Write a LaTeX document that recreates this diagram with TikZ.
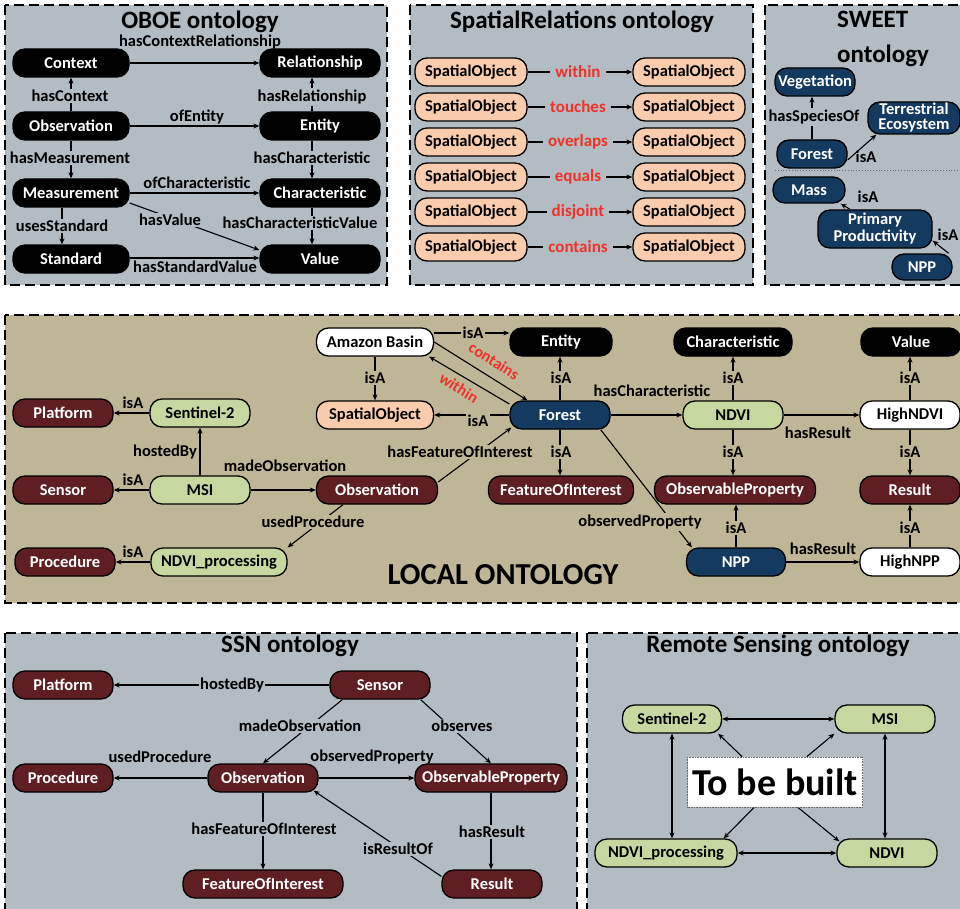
\documentclass[tikz,border=0pt]{standalone}
\usepackage{fontspec}
\setmainfont{Carlito}
\usetikzlibrary{arrows.meta}
\definecolor{pgray}{RGB}{179,187,195}
\definecolor{ptan}{RGB}{190,182,150}
\definecolor{dkred}{RGB}{94,30,34}
\definecolor{dkblue}{RGB}{20,58,96}
\definecolor{lgreen}{RGB}{198,216,160}
\definecolor{peach}{RGB}{248,204,172}
\definecolor{redlab}{RGB}{238,50,40}
\pgfdeclarelayer{bgl}
\pgfdeclarelayer{edl}
\pgfsetlayers{bgl,edl,main}
\newcommand\nf{\fontsize{16.5}{17}\selectfont\bfseries}
\begin{document}
\begin{tikzpicture}[x=1pt,y=-1pt,
 nd/.style={draw=black, line width=1.3pt, rounded corners=12pt, minimum height=28pt, inner sep=1pt, font=\nf},
 blk/.style={nd, fill=black, text=white},
 drd/.style={nd, fill=dkred, text=white},
 dbl/.style={nd, fill=dkblue, text=white},
 grn/.style={nd, fill=lgreen},
 pch/.style={nd, fill=peach},
 wht/.style={nd, fill=white},
 lbl/.style={font=\nf, inner sep=1.5pt},
 lg/.style={lbl, fill=pgray},
 lt/.style={lbl, fill=ptan},
 rl/.style={font=\fontsize{17}{18}\selectfont\bfseries, text=redlab, inner sep=1.5pt},
 ar/.style={line width=1.1pt, -{Stealth[length=6pt,width=5pt]}},
 da/.style={line width=1.1pt, {Stealth[length=6pt,width=5pt]}-{Stealth[length=6pt,width=5pt]}},
 panel/.style={line width=2pt, dash pattern=on 10pt off 5pt},
 ttl/.style={font=\fontsize{25}{35}\selectfont\bfseries, inner sep=0pt}
]
\useasboundingbox (0,0) rectangle (960,909);
\begin{pgfonlayer}{bgl}
\fill[white] (0,0) rectangle (960,909);
\draw[panel, fill=pgray] (5,5) rectangle (387,285);
\draw[panel, fill=pgray] (410,5) rectangle (753,285);
\draw[panel, fill=pgray] (765,5) rectangle (964,285);
\draw[panel, fill=ptan] (5,315) rectangle (964,603);
\draw[panel, fill=pgray] (5,633) rectangle (577,914);
\draw[panel, fill=pgray] (587,633) rectangle (964,914);
\end{pgfonlayer}

% ---------------- OBOE ----------------
\node[ttl] (tOBOE) at (200,22) {OBOE ontology};
\node[blk, minimum width=116pt] (oCtx) at (71,63) {Context};
\node[blk, minimum width=120pt] (oRel) at (320,63) {Relationship};
\node[blk, minimum width=116pt] (oObs) at (71,126) {Observation};
\node[blk, minimum width=120pt] (oEnt) at (320,126) {Entity};
\node[blk, minimum width=116pt] (oMea) at (71,193) {Measurement};
\node[blk, minimum width=120pt] (oCha) at (320,193) {Characteristic};
\node[blk, minimum width=116pt] (oStd) at (71,259) {Standard};
\node[blk, minimum width=120pt] (oVal) at (320,259) {Value};
\begin{pgfonlayer}{edl}
\draw[ar] (oCtx) -- (oRel);
\draw[ar] (oObs.north) -- (oCtx.south);
\draw[ar] ([xshift=-8pt]oEnt.north) -- ([xshift=-8pt]oRel.south);
\draw[ar] (oObs) -- (oEnt);
\draw[ar] (oObs.south) -- (oMea.north);
\draw[ar] ([xshift=-8pt]oEnt.south) -- ([xshift=-8pt]oCha.north);
\draw[ar] (oMea) -- (oCha);
\draw[ar] ([yshift=-10pt]oMea.east) -- ([yshift=9pt]oVal.west);
\draw[ar] ([xshift=-9pt]oMea.south) -- ([xshift=-9pt]oStd.north);
\draw[ar] ([xshift=-8pt]oCha.south) -- ([xshift=-8pt]oVal.north);
\draw[ar] ([yshift=1pt]oStd.east) -- ([yshift=1pt]oVal.west);
\end{pgfonlayer}
\node[lbl] (l1) at (200,42) {hasContextRelationship};
\node[lg] (l2) at (70,96) {hasContext};
\node[lg] (l3) at (312,97) {hasRelationship};
\node[lbl] (l4) at (197,117) {ofEntity};
\node[lg] (l5) at (70,158) {hasMeasurement};
\node[lg] (l6) at (312,158) {hasCharacteristic};
\node[lbl] (l7) at (197,183) {ofCharacteristic};
\node[lg] (l8) at (170,220) {hasValue};
\node[lg] (l9) at (62,226) {usesStandard};
\node[lg] (l10) at (300,223) {hasCharacteristicValue};
\node[lbl] (l11) at (195,267) {hasStandardValue};

% ---------------- SpatialRelations ----------------
\node[ttl] (tSR) at (582,22) {SpatialRelations ontology};
\foreach \i/\y/\r in {1/72/within,2/107/touches,3/142/overlaps,4/177/equals,5/212/disjoint,6/247/contains}{
 \node[pch, minimum width=112pt] (sl\i) at (471,\y) {SpatialObject};
 \node[pch, minimum width=112pt] (sr\i) at (689,\y) {SpatialObject};
 \begin{pgfonlayer}{edl}\draw[ar] (sl\i) -- (sr\i);\end{pgfonlayer}
 \node[rl, fill=pgray, inner xsep=5pt] (slab\i) at (578,\y) {\r};
}

% ---------------- SWEET ----------------
\node[ttl, align=left, anchor=west] (tSW) at (837,39) {SWEET\\ontology};
\node[dbl, minimum width=80pt] (sVeg) at (815,82) {Vegetation};
\node[dbl, minimum width=92pt, minimum height=32pt, align=center, font=\fontsize{16.5}{15}\selectfont\bfseries] (sTE) at (914,118) {Terrestrial\\Ecosystem};
\node[dbl, minimum width=70pt] (sFor) at (812,154) {Forest};
\node[dbl, minimum width=72pt, minimum height=26pt] (sMass) at (809,190) {Mass};
\node[dbl, minimum width=114pt, minimum height=38pt, align=center, font=\fontsize{16.5}{17}\selectfont\bfseries] (sPP) at (875,229) {Primary\\Productivity};
\node[dbl, minimum width=60pt, minimum height=26pt] (sNPP) at (922,267) {NPP};
\begin{pgfonlayer}{edl}
\draw[ar] (sFor.north) -- (sFor.north |- sVeg.south);
\draw[ar] ([yshift=-6pt]sFor.east) -- ([xshift=9pt]sTE.south west);
\draw[ar] ([xshift=-25pt]sPP.north) -- ([xshift=-5pt]sMass.south east);
\draw[ar] ([xshift=-4pt]sNPP.north east) -- ([yshift=8pt]sPP.south east);
\end{pgfonlayer}
\draw[dotted, line width=0.8pt, black!60] (775,170) -- (958,170);
\node[lg] (wl1) at (814,117) {hasSpeciesOf};
\node[lbl] (wl2) at (866,157) {isA};
\node[lbl] (wl3) at (868,197) {isA};
\node[lbl] (wl4) at (948,235) {isA};

% ---------------- LOCAL ----------------
\node[font=\fontsize{30.5}{32}\selectfont\bfseries] (tLO) at (503,575) {LOCAL ONTOLOGY};
\node[wht, minimum width=117pt] (lAB) at (375,342) {Amazon Basin};
\node[pch, minimum width=117pt] (lSO) at (375,415) {SpatialObject};
\node[drd, minimum width=100pt] (lPlat) at (63,413) {Platform};
\node[grn, minimum width=100pt] (lSen) at (200,413) {Sentinel-2};
\node[drd, minimum width=100pt] (lSens) at (63,490) {Sensor};
\node[grn, minimum width=100pt] (lMSI) at (200,490) {MSI};
\node[drd, minimum width=121pt] (lObs) at (377,490) {Observation};
\node[drd, minimum width=100pt] (lProc) at (65,562) {Procedure};
\node[grn, minimum width=136pt] (lNP) at (219,562) {NDVI\_processing};
\node[blk, minimum width=102pt] (lEnt) at (561,342) {Entity};
\node[dbl, minimum width=100pt] (lFor) at (560,415) {Forest};
\node[drd, minimum width=145pt] (lFOI) at (561,490) {FeatureOfInterest};
\node[blk, minimum width=118pt] (lCha) at (733,342) {Characteristic};
\node[blk, minimum width=100pt] (lVal) at (911,342) {Value};
\node[grn, minimum width=100pt] (lNDVI) at (733,415) {NDVI};
\node[wht, minimum width=100pt] (lHN) at (910,415) {HighNDVI};
\node[drd, minimum width=161pt] (lOP) at (735,490) {ObservableProperty};
\node[drd, minimum width=100pt] (lRes) at (910,490) {Result};
\node[dbl, minimum width=99pt] (lNPP) at (736,562) {NPP};
\node[wht, minimum width=100pt] (lHNPP) at (910,562) {HighNPP};
\begin{pgfonlayer}{edl}
\draw[ar] (lSen) -- (lPlat);
\draw[ar] (lMSI) -- (lSens);
\draw[ar] (lNP) -- (lProc);
\draw[ar] (lMSI) -- (lSen);
\draw[ar] (lMSI) -- (lObs);
\draw[ar] ([xshift=-34pt]lObs.south) -- (lNP.north east);
\draw[ar] ([yshift=8pt]lObs.east) -- ([shift={(2pt,2pt)}]lFor.south west);
\draw[ar] ([yshift=9pt]lAB.east) -- ([yshift=9pt]lEnt.west);
\draw[ar] (lAB) -- (lSO);
\draw[ar] (lFor) -- (lSO);
\draw[ar] (lAB.east) -- ([xshift=18pt]lFor.north west);
\draw[ar] ([yshift=11pt]lFor.west) -- ([xshift=-5pt]lAB.south east);
\draw[ar] (lFor.north) -- (lFor.north |- lEnt.south);
\draw[ar] (lFor.south) -- (lFor.south |- lFOI.north);
\draw[ar] (lFor) -- (lNDVI);
\draw[ar] (lNDVI) -- (lCha);
\draw[ar] (lNDVI) -- (lHN);
\draw[ar] (lHN.north) -- (lHN.north |- lVal.south);
\draw[ar] (lNDVI.south) -- (lNDVI.south |- lOP.north);
\draw[ar] (lHN) -- (lRes);
\draw[ar] (lNPP.north) -- (lNPP.north |- lOP.south);
\draw[ar] (lHNPP) -- (lRes);
\draw[ar] (lNPP) -- (lHNPP);
\draw[ar] ([xshift=-10pt]lFor.south east) -- ([xshift=6pt]lNPP.north west);
\end{pgfonlayer}
\node[lbl] (a1) at (133,403) {isA};
\node[lbl] (a2) at (133,480) {isA};
\node[lbl] (a3) at (133,552) {isA};
\node[lbl] (a4) at (165,452) {hostedBy};
\node[lbl] (a5) at (285,466) {madeObservation};
\node[lt] (a6) at (313,522) {usedProcedure};
\node[lt] (a7) at (460,452) {hasFeatureOfInterest};
\node[lt] (a8) at (473,333) {isA};
\node[lt] (a9) at (375,378) {isA};
\node[lt] (a10) at (478,421) {isA};
\node[rl, rotate=-32, inner sep=0pt, font=\fontsize{16}{17}\selectfont\bfseries] (a11) at (494,361) {contains};
\node[rl, rotate=-32, inner sep=0pt, font=\fontsize{16}{17}\selectfont\bfseries] (a12) at (459,388) {within};
\node[lt] (a13) at (561,378) {isA};
\node[lt] (a14) at (561,452) {isA};
\node[lbl] (a15) at (652,391) {hasCharacteristic};
\node[lt] (a16) at (733,378) {isA};
\node[lbl] (a17) at (818,433) {hasResult};
\node[lt] (a18) at (910,378) {isA};
\node[lt] (a19) at (733,452) {isA};
\node[lt] (a20) at (910,452) {isA};
\node[lt] (a21) at (736,528) {isA};
\node[lt] (a22) at (910,528) {isA};
\node[lbl] (a23) at (823,549) {hasResult};
\node[lt] (a24) at (640,522) {observedProperty};

% ---------------- SSN ----------------
\node[ttl] (tSSN) at (290,646) {SSN ontology};
\node[drd, minimum width=100pt] (nPlat) at (63,685) {Platform};
\node[drd, minimum width=100pt] (nSen) at (380,685) {Sensor};
\node[drd, minimum width=100pt] (nProc) at (63,778) {Procedure};
\node[drd, minimum width=110pt] (nObs) at (263,778) {Observation};
\node[drd, minimum width=152pt] (nOP) at (491,778) {ObservableProperty};
\node[drd, minimum width=160pt] (nFOI) at (263,884) {FeatureOfInterest};
\node[drd, minimum width=100pt] (nRes) at (492,884) {Result};
\begin{pgfonlayer}{edl}
\draw[ar] (nSen) -- (nPlat);
\draw[ar] ([xshift=13pt]nSen.south west) -- (nObs.north);
\draw[ar] ([xshift=-10pt]nSen.south east) -- (nOP.north);
\draw[ar] (nObs) -- (nProc);
\draw[ar] (nObs) -- (nOP);
\draw[ar] (nObs) -- (nFOI);
\draw[ar] (nOP.south) -- (nOP.south |- nRes.north);
\draw[ar] ([yshift=-7pt]nRes.north west) -- ([shift={(-5pt,2pt)}]nObs.south east);
\end{pgfonlayer}
\node[lg] (n1) at (232,685) {hostedBy};
\node[lg] (n2) at (300,726) {madeObservation};
\node[lg] (n3) at (462,726) {observes};
\node[lbl] (n4) at (160,757) {usedProcedure};
\node[lbl] (n5) at (372,757) {observedProperty};
\node[lg] (n6) at (264,829) {hasFeatureOfInterest};
\node[lg] (n7) at (398,849) {isResultOf};
\node[lg] (n8) at (492,832) {hasResult};

% ---------------- Remote Sensing ----------------
\node[ttl] (tRS) at (778,646) {Remote Sensing ontology};
\node[grn, minimum width=99pt] (rSen) at (672,719) {Sentinel-2};
\node[grn, minimum width=100pt] (rMSI) at (885,719) {MSI};
\node[grn, minimum width=142pt] (rNP) at (666,853) {NDVI\_processing};
\node[grn, minimum width=100pt] (rNDVI) at (887,853) {NDVI};
\node[draw=black!60, densely dotted, line width=0.6pt, fill=white, minimum width=175pt, minimum height=50pt, inner sep=0pt, font=\fontsize{38}{40}\selectfont\bfseries] (rTBB) at (775,782) {To be built};
\begin{pgfonlayer}{edl}
\draw[da] (rSen) -- (rMSI);
\draw[da] (rSen.south) -- (rSen.south |- rNP.north);
\draw[da] (rMSI.south) -- (rMSI.south |- rNDVI.north);
\draw[da] (rNP) -- (rNDVI);
\draw[ar] ([xshift=55pt]rTBB.north west) -- ([xshift=-4pt]rSen.south east);
\draw[ar] ([xshift=-56pt]rTBB.north east) -- (rMSI.south west);
\draw[ar] ([xshift=67pt]rTBB.south west) -- ([xshift=-14pt]rNP.north east);
\draw[ar] ([xshift=-65pt]rTBB.south east) -- ([shift={(3pt,-3pt)}]rNDVI.north west);
\end{pgfonlayer}
\end{tikzpicture}
\end{document}
